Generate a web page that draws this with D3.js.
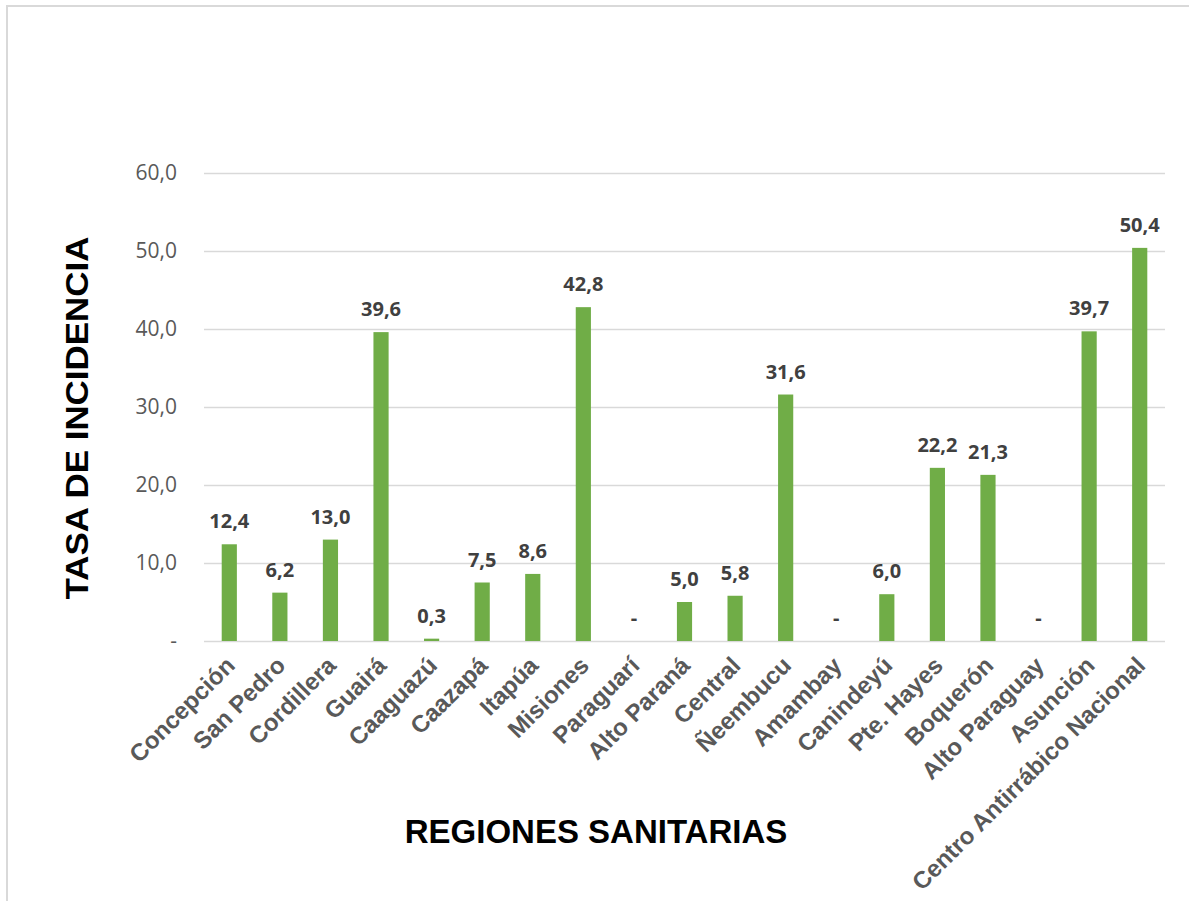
<!DOCTYPE html>
<html>
<head>
<meta charset="utf-8">
<script src="https://cdn.jsdelivr.net/npm/d3@7"></script>
<style>
  body { margin: 0; background: #fff; }
  svg { display: block; }
</style>
</head>
<body>
<div id="chart"></div>
<script>
// regiones sanitarias and their tasa de incidencia
const regiones = ["Concepción", "San Pedro", "Cordillera", "Guairá", "Caaguazú",
                  "Caazapá", "Itapúa", "Misiones", "Paraguarí", "Alto Paraná",
                  "Central", "Ñeembucu", "Amambay", "Canindeyú", "Pte. Hayes",
                  "Boquerón", "Alto Paraguay", "Asunción", "Centro Antirrábico Nacional"];
const tasas = [12.4, 6.2, 13.0, 39.6, 0.3, 7.5, 8.6, 42.8, 0, 5.0,
               5.8, 31.6, 0, 6.0, 22.2, 21.3, 0, 39.7, 50.4];
const yTicks = [0, 10, 20, 30, 40, 50, 60];

const WIDTH = 1189, HEIGHT = 901;
const PLOT = { left: 204, right: 1165, top: 173, bottom: 641 };

// comma decimal, zero shown as "-"
const fmt = (d) => d === 0 ? "-" : d3.format(".1f")(d).replace(".", ",");

const svg = d3.select("#chart")
  .append("svg")
    .attr("width", WIDTH)
    .attr("height", HEIGHT);

// chart frame (only top and left edges visible in the picture)
svg.append("rect")
    .attr("x", 7).attr("y", 6)
    .attr("width", WIDTH + 20).attr("height", HEIGHT + 20)
    .attr("fill", "#fff")
    .attr("stroke", "#d9d9d9")
    .attr("stroke-width", 2);

const x = d3.scaleBand()
    .domain(regiones)
    .range([PLOT.left, PLOT.right])
    .paddingInner(0.7)
    .paddingOuter(0.35);

const y = d3.scaleLinear()
    .domain([0, 60])
    .range([PLOT.bottom, PLOT.top]);

// y axis = gridlines + labels
const yAxis = svg.append("g")
    .attr("transform", `translate(${PLOT.left},0)`)
    .call(d3.axisLeft(y)
      .tickValues(yTicks)
      .tickSize(-(PLOT.right - PLOT.left))
      .tickPadding(27)
      .tickFormat(fmt));

yAxis.select(".domain").remove();
yAxis.selectAll(".tick line")
    .attr("stroke", "#d9d9d9")
    .attr("stroke-width", 1.5);
yAxis.selectAll(".tick text")
    .attr("fill", "#595959")
    .style("font-family", "'Open Sans', sans-serif")
    .style("font-size", "21px");

// bars
svg.selectAll("rect.bar")
  .data(tasas)
  .enter()
  .append("rect")
    .attr("class", "bar")
    .attr("x", (d, i) => x(regiones[i]))
    .attr("y", (d) => y(d))
    .attr("width", x.bandwidth())
    .attr("height", (d) => y(0) - y(d))
    .attr("fill", "#70ad47");

// value labels
svg.selectAll("text.val")
  .data(tasas)
  .enter()
  .append("text")
    .attr("class", "val")
    .attr("x", (d, i) => x(regiones[i]) + x.bandwidth() / 2)
    .attr("y", (d) => y(d) - 16)
    .attr("text-anchor", "middle")
    .attr("fill", "#404040")
    .style("font-family", "'Open Sans', sans-serif")
    .style("font-weight", "700")
    .style("font-size", "20px")
    .text(fmt);

// category labels, rotated -45
svg.selectAll("text.cat")
  .data(regiones)
  .enter()
  .append("text")
    .attr("class", "cat")
    .attr("transform", (d) => {
      const cx = x(d) + x.bandwidth() / 2 + 7;
      return `translate(${cx},${PLOT.bottom + 26}) rotate(-45)`;
    })
    .attr("text-anchor", "end")
    .attr("fill", "#595959")
    .style("font-family", "'Liberation Sans', Arial, sans-serif")
    .style("font-weight", "700")
    .style("font-size", "24px")
    .text((d) => d);

// axis titles
svg.append("text")
    .attr("transform", "translate(88,418) rotate(-90)")
    .attr("text-anchor", "middle")
    .attr("fill", "#000")
    .attr("textLength", 363)
    .attr("lengthAdjust", "spacingAndGlyphs")
    .style("font-family", "'Liberation Sans', Arial, sans-serif")
    .style("font-weight", "700")
    .style("font-size", "31px")
    .text("TASA DE INCIDENCIA");

svg.append("text")
    .attr("x", 596)
    .attr("y", 843)
    .attr("text-anchor", "middle")
    .attr("fill", "#000")
    .style("font-family", "'Liberation Sans', Arial, sans-serif")
    .style("font-weight", "700")
    .style("font-size", "33px")
    .text("REGIONES SANITARIAS");
</script>
</body>
</html>
